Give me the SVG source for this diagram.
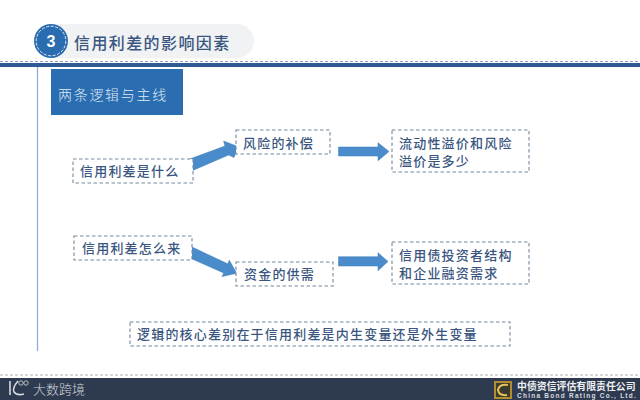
<svg xmlns="http://www.w3.org/2000/svg" width="640" height="400" viewBox="0 0 640 400">
<style>
text{font-family:"Noto Sans CJK SC","Liberation Sans",sans-serif}
.box{fill:#fff;stroke:#74899f;stroke-width:1.1;stroke-dasharray:3.5 2.5}
.t{fill:#3a5680;font-size:13px;letter-spacing:1.2px;font-weight:500}
.arrow{fill:#4a8ccb;stroke:#3f7cb8;stroke-width:.5}
</style>
<rect width="640" height="400" fill="#fff"/>
<g id="header">
<rect x="40" y="24" width="214" height="34" rx="17" fill="#f1f2f4"/>
<line x1="0" y1="61.5" x2="640" y2="61.5" stroke="#8aa0bd" stroke-width="1" stroke-dasharray="3 2"/>
<rect x="0" y="63" width="640" height="4" fill="#2f5b95"/>
<line x1="37.5" y1="67" x2="37.5" y2="351" stroke="#8fb0d3" stroke-width="1.3"/>
<circle cx="51" cy="41" r="17" fill="#2a6cb0"/>
<circle cx="51" cy="41" r="14.8" fill="none" stroke="#e6eef6" stroke-width="1" stroke-dasharray="3 1.6"/>
<text x="51" y="47" text-anchor="middle" style="font-family:'Liberation Sans',sans-serif;font-size:16px;font-weight:700" fill="#fff">3</text>
<text x="74" y="49" fill="#3a5680" style="font-size:16px;letter-spacing:1.4px;font-weight:500">信用利差的影响因素</text>
</g>
<g id="subtitle">
<rect x="51" y="69" width="132" height="46" fill="#2b6db1"/>
<text x="58" y="100" fill="#dfe9f4" style="font-size:14px;letter-spacing:1.7px;font-weight:300">两条逻辑与主线</text>
</g>
<g id="connectors">
<polygon class="arrow" points="186.2,160.3 225,146 223.6,141 238.3,146.7 234,157.5 228.6,155 189.8,171.7"/>
<polygon class="arrow" points="190,246.1 227.7,263.8 229.3,260.2 236.7,273.3 222.1,276.6 223.7,273 186,256.3"/>
<polygon class="arrow" points="338.5,147 378,147 378,142.7 389,151.5 378,160.7 378,156 338.5,156"/>
<polygon class="arrow" points="338.5,256.7 378,256.7 378,252.7 388,261.5 378,270.7 378,266 338.5,266"/>
</g>
<g id="n1"><rect class="box" x="73" y="159" width="120" height="24"/><text class="t" x="80" y="176">信用利差是什么</text></g>
<g id="n2"><rect class="box" x="236" y="130" width="94" height="24"/><text class="t" x="243" y="148">风险的补偿</text></g>
<g id="n3"><rect class="box" x="392" y="130" width="137" height="42"/><text class="t" x="399" y="148">流动性溢价和风险</text><text class="t" x="399" y="166">溢价是多少</text></g>
<g id="n4"><rect class="box" x="74" y="236" width="118" height="24"/><text class="t" x="82" y="253">信用利差怎么来</text></g>
<g id="n5"><rect class="box" x="236" y="262" width="97" height="24"/><text class="t" x="244" y="279">资金的供需</text></g>
<g id="n6"><rect class="box" x="392" y="242" width="137" height="42"/><text class="t" x="399" y="260">信用债投资者结构</text><text class="t" x="399" y="278">和企业融资需求</text></g>
<g id="n7"><rect class="box" x="130" y="322" width="380" height="24"/><text class="t" x="137" y="339">逻辑的核心差别在于信用利差是内生变量还是外生变量</text></g>
<g id="footer">
<line x1="0" y1="375" x2="640" y2="375" stroke="#a9b4a8" stroke-width="1" stroke-dasharray="3 2"/>
<rect x="0" y="378" width="640" height="22" fill="#2e3a4f"/>
<path d="M10 381V395M18 381Q12 388 14 392Q17 396 24 394" fill="none" stroke="#d5dae0" stroke-width="1.6"/>
<circle cx="21" cy="383" r="2.2" fill="none" stroke="#d5dae0" stroke-width=".8"/><circle cx="26" cy="383" r="2.2" fill="none" stroke="#d5dae0" stroke-width=".8"/>
<text x="33" y="394" fill="#cfd4da" style="font-size:13px;font-weight:300">大数跨境</text>
<rect x="494" y="381" width="18" height="18" fill="#b08d2e"/>
<rect x="496" y="383" width="14" height="14" fill="#3b3a2e"/>
<path d="M508 385Q499 384 498 390Q499 396 507 395" fill="none" stroke="#e2c25a" stroke-width="2"/>
<text x="517" y="390" fill="#eef0f2" style="font-size:9.9px;font-weight:700">中债资信评估有限责任公司</text>
<text x="517" y="398" fill="#d8dce0" style="font-family:'Liberation Sans',sans-serif;font-size:6.5px;font-weight:700;letter-spacing:1.25px">China Bond Rating Co., Ltd.</text>
</g>
</svg>
